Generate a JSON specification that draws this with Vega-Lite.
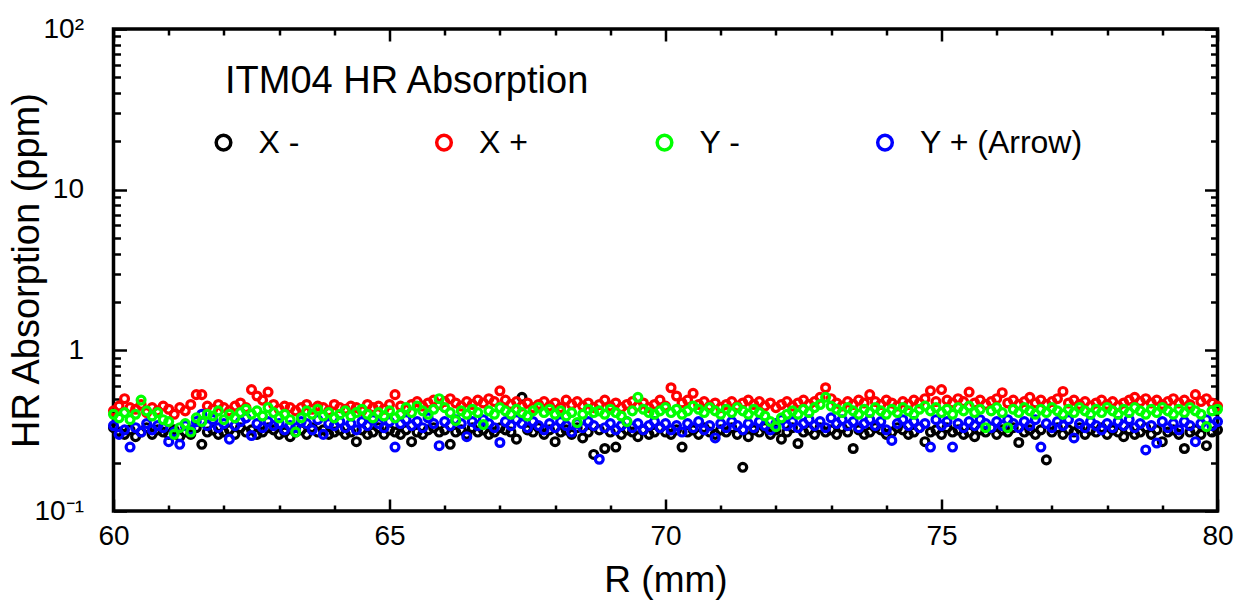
{
"$schema": "https://vega.github.io/schema/vega-lite/v6.json",
"width": 1104, "height": 482,
"autosize": {"type": "none"},
"padding": {"left": 113.5, "top": 29, "right": 29.5, "bottom": 92},
"background": "white",
"data": {"values": [
{"r":60.0,"a":0.33,"b":0.42,"c":0.34,"d":0.40},
{"r":60.1,"a":0.31,"b":0.45,"c":0.30,"d":0.38},
{"r":60.2,"a":0.30,"b":0.50,"c":0.32,"d":0.41},
{"r":60.3,"a":0.32,"b":0.44,"c":0.25,"d":0.37},
{"r":60.4,"a":0.29,"b":0.43,"c":0.33,"d":0.40},
{"r":60.5,"a":0.31,"b":0.46,"c":0.31,"d":0.49},
{"r":60.6,"a":0.33,"b":0.41,"c":0.35,"d":0.42},
{"r":60.7,"a":0.30,"b":0.44,"c":0.32,"d":0.39},
{"r":60.8,"a":0.32,"b":0.42,"c":0.34,"d":0.41},
{"r":60.9,"a":0.31,"b":0.45,"c":0.33,"d":0.37},
{"r":61.0,"a":0.30,"b":0.43,"c":0.27,"d":0.36},
{"r":61.1,"a":0.32,"b":0.40,"c":0.31,"d":0.30},
{"r":61.2,"a":0.29,"b":0.44,"c":0.26,"d":0.33},
{"r":61.3,"a":0.31,"b":0.42,"c":0.34,"d":0.35},
{"r":61.4,"a":0.30,"b":0.46,"c":0.32,"d":0.31},
{"r":61.5,"a":0.33,"b":0.53,"c":0.36,"d":0.38},
{"r":61.6,"a":0.26,"b":0.53,"c":0.40,"d":0.36},
{"r":61.7,"a":0.31,"b":0.45,"c":0.34,"d":0.40},
{"r":61.8,"a":0.32,"b":0.43,"c":0.37,"d":0.39},
{"r":61.9,"a":0.30,"b":0.46,"c":0.33,"d":0.42},
{"r":62.0,"a":0.31,"b":0.44,"c":0.35,"d":0.37},
{"r":62.1,"a":0.32,"b":0.42,"c":0.28,"d":0.40},
{"r":62.2,"a":0.30,"b":0.45,"c":0.34,"d":0.38},
{"r":62.3,"a":0.33,"b":0.47,"c":0.36,"d":0.41},
{"r":62.4,"a":0.31,"b":0.44,"c":0.38,"d":0.43},
{"r":62.5,"a":0.32,"b":0.57,"c":0.295,"d":0.40},
{"r":62.6,"a":0.30,"b":0.52,"c":0.35,"d":0.42},
{"r":62.7,"a":0.31,"b":0.49,"c":0.33,"d":0.39},
{"r":62.8,"a":0.33,"b":0.55,"c":0.36,"d":0.44},
{"r":62.9,"a":0.32,"b":0.46,"c":0.34,"d":0.41},
{"r":63.0,"a":0.30,"b":0.43,"c":0.35,"d":0.38},
{"r":63.1,"a":0.31,"b":0.45,"c":0.32,"d":0.40},
{"r":63.2,"a":0.29,"b":0.44,"c":0.34,"d":0.37},
{"r":63.3,"a":0.31,"b":0.42,"c":0.33,"d":0.31},
{"r":63.4,"a":0.32,"b":0.44,"c":0.36,"d":0.38},
{"r":63.5,"a":0.30,"b":0.46,"c":0.35,"d":0.42},
{"r":63.6,"a":0.33,"b":0.43,"c":0.32,"d":0.40},
{"r":63.7,"a":0.31,"b":0.45,"c":0.37,"d":0.43},
{"r":63.8,"a":0.32,"b":0.44,"c":0.30,"d":0.39},
{"r":63.9,"a":0.30,"b":0.42,"c":0.35,"d":0.41},
{"r":64.0,"a":0.31,"b":0.46,"c":0.34,"d":0.38},
{"r":64.1,"a":0.32,"b":0.44,"c":0.36,"d":0.40},
{"r":64.2,"a":0.30,"b":0.43,"c":0.33,"d":0.42},
{"r":64.3,"a":0.31,"b":0.45,"c":0.35,"d":0.39},
{"r":64.4,"a":0.27,"b":0.44,"c":0.32,"d":0.41},
{"r":64.5,"a":0.32,"b":0.42,"c":0.36,"d":0.43},
{"r":64.6,"a":0.30,"b":0.46,"c":0.34,"d":0.40},
{"r":64.7,"a":0.31,"b":0.44,"c":0.37,"d":0.38},
{"r":64.8,"a":0.33,"b":0.45,"c":0.35,"d":0.41},
{"r":64.9,"a":0.30,"b":0.43,"c":0.33,"d":0.39},
{"r":65.0,"a":0.32,"b":0.46,"c":0.36,"d":0.42},
{"r":65.1,"a":0.31,"b":0.53,"c":0.25,"d":0.38},
{"r":65.2,"a":0.30,"b":0.45,"c":0.35,"d":0.40},
{"r":65.3,"a":0.32,"b":0.43,"c":0.37,"d":0.44},
{"r":65.4,"a":0.27,"b":0.46,"c":0.34,"d":0.41},
{"r":65.5,"a":0.31,"b":0.48,"c":0.36,"d":0.45},
{"r":65.6,"a":0.30,"b":0.45,"c":0.33,"d":0.42},
{"r":65.7,"a":0.32,"b":0.47,"c":0.38,"d":0.40},
{"r":65.8,"a":0.33,"b":0.49,"c":0.35,"d":0.43},
{"r":65.9,"a":0.31,"b":0.46,"c":0.255,"d":0.50},
{"r":66.0,"a":0.32,"b":0.48,"c":0.36,"d":0.44},
{"r":66.1,"a":0.26,"b":0.50,"c":0.34,"d":0.41},
{"r":66.2,"a":0.31,"b":0.47,"c":0.37,"d":0.366},
{"r":66.3,"a":0.32,"b":0.45,"c":0.35,"d":0.42},
{"r":66.4,"a":0.30,"b":0.48,"c":0.29,"d":0.40},
{"r":66.5,"a":0.33,"b":0.46,"c":0.36,"d":0.43},
{"r":66.6,"a":0.31,"b":0.49,"c":0.34,"d":0.41},
{"r":66.7,"a":0.32,"b":0.47,"c":0.37,"d":0.345},
{"r":66.8,"a":0.30,"b":0.50,"c":0.35,"d":0.42},
{"r":66.9,"a":0.31,"b":0.48,"c":0.33,"d":0.40},
{"r":67.0,"a":0.33,"b":0.56,"c":0.267,"d":0.44},
{"r":67.1,"a":0.32,"b":0.49,"c":0.36,"d":0.42},
{"r":67.2,"a":0.31,"b":0.46,"c":0.34,"d":0.40},
{"r":67.3,"a":0.28,"b":0.48,"c":0.37,"d":0.43},
{"r":67.4,"a":0.51,"b":0.45,"c":0.35,"d":0.41},
{"r":67.5,"a":0.32,"b":0.47,"c":0.33,"d":0.39},
{"r":67.6,"a":0.31,"b":0.44,"c":0.36,"d":0.42},
{"r":67.7,"a":0.33,"b":0.46,"c":0.34,"d":0.44},
{"r":67.8,"a":0.30,"b":0.48,"c":0.32,"d":0.41},
{"r":67.9,"a":0.32,"b":0.45,"c":0.35,"d":0.43},
{"r":68.0,"a":0.27,"b":0.47,"c":0.33,"d":0.40},
{"r":68.1,"a":0.31,"b":0.44,"c":0.36,"d":0.42},
{"r":68.2,"a":0.32,"b":0.49,"c":0.34,"d":0.39},
{"r":68.3,"a":0.30,"b":0.46,"c":0.31,"d":0.41},
{"r":68.4,"a":0.33,"b":0.48,"c":0.35,"d":0.355},
{"r":68.5,"a":0.285,"b":0.45,"c":0.33,"d":0.40},
{"r":68.6,"a":0.31,"b":0.47,"c":0.36,"d":0.43},
{"r":68.7,"a":0.225,"b":0.44,"c":0.34,"d":0.41},
{"r":68.8,"a":0.32,"b":0.46,"c":0.21,"d":0.42},
{"r":68.9,"a":0.245,"b":0.49,"c":0.33,"d":0.40},
{"r":69.0,"a":0.31,"b":0.45,"c":0.35,"d":0.43},
{"r":69.1,"a":0.25,"b":0.47,"c":0.32,"d":0.41},
{"r":69.2,"a":0.30,"b":0.44,"c":0.34,"d":0.39},
{"r":69.3,"a":0.32,"b":0.46,"c":0.36,"d":0.36},
{"r":69.4,"a":0.31,"b":0.48,"c":0.33,"d":0.42},
{"r":69.5,"a":0.29,"b":0.45,"c":0.35,"d":0.51},
{"r":69.6,"a":0.32,"b":0.47,"c":0.32,"d":0.43},
{"r":69.7,"a":0.30,"b":0.44,"c":0.34,"d":0.41},
{"r":69.8,"a":0.31,"b":0.46,"c":0.36,"d":0.40},
{"r":69.9,"a":0.33,"b":0.49,"c":0.33,"d":0.42},
{"r":70.0,"a":0.31,"b":0.45,"c":0.35,"d":0.44},
{"r":70.1,"a":0.30,"b":0.585,"c":0.32,"d":0.41},
{"r":70.2,"a":0.32,"b":0.52,"c":0.34,"d":0.43},
{"r":70.3,"a":0.25,"b":0.47,"c":0.31,"d":0.40},
{"r":70.4,"a":0.31,"b":0.49,"c":0.35,"d":0.42},
{"r":70.5,"a":0.32,"b":0.54,"c":0.33,"d":0.45},
{"r":70.6,"a":0.30,"b":0.46,"c":0.36,"d":0.43},
{"r":70.7,"a":0.33,"b":0.48,"c":0.32,"d":0.41},
{"r":70.8,"a":0.31,"b":0.45,"c":0.34,"d":0.44},
{"r":70.9,"a":0.30,"b":0.47,"c":0.285,"d":0.42},
{"r":71.0,"a":0.32,"b":0.44,"c":0.35,"d":0.40},
{"r":71.1,"a":0.31,"b":0.46,"c":0.33,"d":0.43},
{"r":71.2,"a":0.33,"b":0.48,"c":0.36,"d":0.41},
{"r":71.3,"a":0.30,"b":0.45,"c":0.34,"d":0.44},
{"r":71.4,"a":0.187,"b":0.47,"c":0.32,"d":0.42},
{"r":71.5,"a":0.29,"b":0.49,"c":0.35,"d":0.40},
{"r":71.6,"a":0.32,"b":0.46,"c":0.33,"d":0.43},
{"r":71.7,"a":0.31,"b":0.48,"c":0.36,"d":0.41},
{"r":71.8,"a":0.33,"b":0.45,"c":0.34,"d":0.39},
{"r":71.9,"a":0.30,"b":0.47,"c":0.32,"d":0.36},
{"r":72.0,"a":0.32,"b":0.44,"c":0.35,"d":0.335},
{"r":72.1,"a":0.28,"b":0.46,"c":0.37,"d":0.38},
{"r":72.2,"a":0.31,"b":0.48,"c":0.34,"d":0.40},
{"r":72.3,"a":0.33,"b":0.45,"c":0.36,"d":0.42},
{"r":72.4,"a":0.263,"b":0.47,"c":0.33,"d":0.40},
{"r":72.5,"a":0.31,"b":0.49,"c":0.35,"d":0.43},
{"r":72.6,"a":0.32,"b":0.46,"c":0.37,"d":0.41},
{"r":72.7,"a":0.30,"b":0.48,"c":0.34,"d":0.44},
{"r":72.8,"a":0.33,"b":0.51,"c":0.36,"d":0.46},
{"r":72.9,"a":0.31,"b":0.585,"c":0.33,"d":0.51},
{"r":73.0,"a":0.32,"b":0.50,"c":0.38,"d":0.45},
{"r":73.1,"a":0.30,"b":0.47,"c":0.35,"d":0.43},
{"r":73.2,"a":0.33,"b":0.45,"c":0.37,"d":0.41},
{"r":73.3,"a":0.31,"b":0.48,"c":0.34,"d":0.44},
{"r":73.4,"a":0.245,"b":0.46,"c":0.36,"d":0.42},
{"r":73.5,"a":0.32,"b":0.49,"c":0.33,"d":0.40},
{"r":73.6,"a":0.30,"b":0.47,"c":0.35,"d":0.43},
{"r":73.7,"a":0.31,"b":0.53,"c":0.37,"d":0.41},
{"r":73.8,"a":0.33,"b":0.48,"c":0.34,"d":0.44},
{"r":73.9,"a":0.32,"b":0.46,"c":0.36,"d":0.42},
{"r":74.0,"a":0.30,"b":0.49,"c":0.32,"d":0.40},
{"r":74.1,"a":0.31,"b":0.47,"c":0.275,"d":0.43},
{"r":74.2,"a":0.33,"b":0.45,"c":0.35,"d":0.41},
{"r":74.3,"a":0.32,"b":0.48,"c":0.37,"d":0.44},
{"r":74.4,"a":0.30,"b":0.46,"c":0.34,"d":0.42},
{"r":74.5,"a":0.31,"b":0.49,"c":0.36,"d":0.40},
{"r":74.6,"a":0.33,"b":0.47,"c":0.33,"d":0.43},
{"r":74.7,"a":0.27,"b":0.50,"c":0.35,"d":0.45},
{"r":74.8,"a":0.31,"b":0.56,"c":0.25,"d":0.42},
{"r":74.9,"a":0.32,"b":0.48,"c":0.37,"d":0.44},
{"r":75.0,"a":0.30,"b":0.57,"c":0.34,"d":0.41},
{"r":75.1,"a":0.33,"b":0.49,"c":0.36,"d":0.43},
{"r":75.2,"a":0.31,"b":0.47,"c":0.25,"d":0.40},
{"r":75.3,"a":0.32,"b":0.50,"c":0.35,"d":0.44},
{"r":75.4,"a":0.30,"b":0.48,"c":0.33,"d":0.42},
{"r":75.5,"a":0.31,"b":0.55,"c":0.36,"d":0.45},
{"r":75.6,"a":0.29,"b":0.47,"c":0.34,"d":0.41},
{"r":75.7,"a":0.32,"b":0.49,"c":0.37,"d":0.43},
{"r":75.8,"a":0.31,"b":0.46,"c":0.35,"d":0.33},
{"r":75.9,"a":0.33,"b":0.48,"c":0.33,"d":0.42},
{"r":76.0,"a":0.30,"b":0.50,"c":0.36,"d":0.44},
{"r":76.1,"a":0.32,"b":0.545,"c":0.34,"d":0.41},
{"r":76.2,"a":0.31,"b":0.47,"c":0.37,"d":0.33},
{"r":76.3,"a":0.33,"b":0.49,"c":0.35,"d":0.43},
{"r":76.4,"a":0.267,"b":0.46,"c":0.33,"d":0.41},
{"r":76.5,"a":0.31,"b":0.48,"c":0.36,"d":0.44},
{"r":76.6,"a":0.32,"b":0.51,"c":0.34,"d":0.42},
{"r":76.7,"a":0.30,"b":0.47,"c":0.37,"d":0.40},
{"r":76.8,"a":0.32,"b":0.49,"c":0.25,"d":0.43},
{"r":76.9,"a":0.208,"b":0.46,"c":0.35,"d":0.41},
{"r":77.0,"a":0.31,"b":0.48,"c":0.33,"d":0.44},
{"r":77.1,"a":0.33,"b":0.50,"c":0.36,"d":0.42},
{"r":77.2,"a":0.30,"b":0.555,"c":0.34,"d":0.40},
{"r":77.3,"a":0.32,"b":0.47,"c":0.37,"d":0.43},
{"r":77.4,"a":0.31,"b":0.49,"c":0.285,"d":0.41},
{"r":77.5,"a":0.33,"b":0.46,"c":0.35,"d":0.44},
{"r":77.6,"a":0.30,"b":0.48,"c":0.33,"d":0.42},
{"r":77.7,"a":0.32,"b":0.45,"c":0.36,"d":0.40},
{"r":77.8,"a":0.31,"b":0.47,"c":0.34,"d":0.43},
{"r":77.9,"a":0.33,"b":0.49,"c":0.32,"d":0.41},
{"r":78.0,"a":0.30,"b":0.46,"c":0.35,"d":0.44},
{"r":78.1,"a":0.32,"b":0.48,"c":0.33,"d":0.42},
{"r":78.2,"a":0.31,"b":0.45,"c":0.36,"d":0.40},
{"r":78.3,"a":0.29,"b":0.47,"c":0.34,"d":0.43},
{"r":78.4,"a":0.32,"b":0.49,"c":0.37,"d":0.41},
{"r":78.5,"a":0.30,"b":0.51,"c":0.33,"d":0.44},
{"r":78.6,"a":0.31,"b":0.48,"c":0.35,"d":0.42},
{"r":78.7,"a":0.33,"b":0.50,"c":0.24,"d":0.40},
{"r":78.8,"a":0.30,"b":0.47,"c":0.34,"d":0.43},
{"r":78.9,"a":0.32,"b":0.49,"c":0.265,"d":0.41},
{"r":79.0,"a":0.27,"b":0.46,"c":0.36,"d":0.44},
{"r":79.1,"a":0.31,"b":0.48,"c":0.33,"d":0.42},
{"r":79.2,"a":0.32,"b":0.50,"c":0.35,"d":0.40},
{"r":79.3,"a":0.30,"b":0.47,"c":0.32,"d":0.43},
{"r":79.4,"a":0.245,"b":0.49,"c":0.36,"d":0.41},
{"r":79.5,"a":0.31,"b":0.46,"c":0.34,"d":0.44},
{"r":79.6,"a":0.32,"b":0.53,"c":0.27,"d":0.42},
{"r":79.7,"a":0.30,"b":0.48,"c":0.35,"d":0.40},
{"r":79.8,"a":0.255,"b":0.50,"c":0.37,"d":0.335},
{"r":79.9,"a":0.31,"b":0.47,"c":0.34,"d":0.42},
{"r":80.0,"a":0.32,"b":0.45,"c":0.36,"d":0.43}
]},
"transform": [{"fold": ["a", "b", "c", "d"], "as": ["k", "v"]}],
"layer": [
{
"mark": {"type": "point", "shape": "circle", "filled": false, "size": 62, "strokeWidth": 3.2, "opacity": 1},
"encoding": {
"x": {"field": "r", "type": "quantitative", "scale": {"domain": [60, 80], "nice": false, "zero": false},
"axis": {"orient": "bottom", "values": [60, 65, 70, 75, 80], "tickSize": -12, "labelFontSize": 28, "labelPadding": 45.5, "labelBaseline": "alphabetic", "labelFlush": false, "labelOverlap": false,
"title": "R (mm)", "titleFontSize": 37, "titleFontWeight": "normal", "titleX": 552, "titleY": 80.5, "titleAlign": "center", "titleBaseline": "alphabetic"}},
"y": {"field": "v", "type": "quantitative", "scale": {"type": "log", "domain": [0.1, 100], "nice": false},
"axis": {"orient": "left", "values": [0.1, 1, 10, 100], "ticks": false, "labelFontSize": 28, "labelPadding": 30, "labelAlign": "right", "labelFlush": false, "labelOverlap": false,
"labelExpr": "datum.value >= 99 ? '10²' : datum.value < 0.5 ? '10⁻¹' : datum.value >= 9 ? '10' : '1'",
"title": "HR Absorption (ppm)", "titleFontSize": 38, "titleFontWeight": "normal", "titleX": -75.5, "titleY": 241, "titleAlign": "center", "titleBaseline": "alphabetic"}},
"color": {"field": "k", "type": "nominal", "scale": {"domain": ["a", "b", "d", "c"], "range": ["#000000", "#ff0000", "#00ff00", "#0000ff"]},
"legend": {"orient": "none", "legendX": 111.5, "legendY": 34, "direction": "horizontal", "columns": 4, "gridAlign": "all", "padding": 0,
"title": "ITM04 HR Absorption", "titleFontSize": 38, "titleFontWeight": "normal", "titleColor": "black", "titlePadding": 25.6, "titleLimit": 800,
"labelFontSize": 32, "labelColor": "black", "labelLimit": 400, "symbolSize": 214, "symbolStrokeWidth": 3.5, "symbolType": "circle",
"symbolOffset": -17.5, "labelOffset": 19, "columnPadding": 7.5,
"labelExpr": "datum.value == 'a' ? 'X -' : datum.value == 'b' ? 'X +' : datum.value == 'd' ? 'Y -' : 'Y + (Arrow)'"}},
"order": {"field": "k", "sort": "ascending"}
}
},
{
"mark": {"type": "point", "opacity": 0},
"encoding": {
"x": {"field": "r", "type": "quantitative", "scale": {"domain": [60, 80], "nice": false, "zero": false},
"axis": {"orient": "bottom", "values": [61, 62, 63, 64, 66, 67, 68, 69, 71, 72, 73, 74, 76, 77, 78, 79], "tickSize": -6, "labels": false, "title": null}},
"y": {"field": "v", "type": "quantitative", "scale": {"type": "log", "domain": [0.1, 100], "nice": false},
"axis": {"orient": "left", "values": [0.2, 0.3, 0.4, 0.5, 0.6, 0.7, 0.8, 0.9, 2, 3, 4, 5, 6, 7, 8, 9, 20, 30, 40, 50, 60, 70, 80, 90], "tickSize": -7, "labels": false, "title": null}}
}
},
{
"mark": {"type": "point", "opacity": 0},
"encoding": {
"x": {"field": "r", "type": "quantitative", "scale": {"domain": [60, 80], "nice": false, "zero": false},
"axis": {"orient": "top", "values": [60, 65, 70, 75, 80], "tickSize": -12, "labels": false, "title": null}},
"y": {"field": "v", "type": "quantitative", "scale": {"type": "log", "domain": [0.1, 100], "nice": false},
"axis": {"orient": "right", "values": [0.1, 1, 10, 100], "tickSize": -13, "labels": false, "title": null}}
}
},
{
"mark": {"type": "point", "opacity": 0},
"encoding": {
"x": {"field": "r", "type": "quantitative", "scale": {"domain": [60, 80], "nice": false, "zero": false},
"axis": {"orient": "top", "values": [61, 62, 63, 64, 66, 67, 68, 69, 71, 72, 73, 74, 76, 77, 78, 79], "tickSize": -6, "labels": false, "title": null}},
"y": {"field": "v", "type": "quantitative", "scale": {"type": "log", "domain": [0.1, 100], "nice": false},
"axis": {"orient": "right", "values": [0.2, 0.3, 0.4, 0.5, 0.6, 0.7, 0.8, 0.9, 2, 3, 4, 5, 6, 7, 8, 9, 20, 30, 40, 50, 60, 70, 80, 90], "tickSize": -7, "labels": false, "title": null}}
}
},
{
"mark": {"type": "point", "opacity": 0},
"encoding": {
"y": {"field": "v", "type": "quantitative", "scale": {"type": "log", "domain": [0.1, 100], "nice": false},
"axis": {"orient": "left", "values": [0.1, 1, 10, 100], "tickSize": -13, "labels": false, "title": null}}
}
}
],
"resolve": {"axis": {"x": "independent", "y": "independent"}},
"config": {
"font": "Liberation Sans",
"view": {"stroke": "black", "strokeWidth": 3.5},
"axis": {"domain": false, "grid": false, "tickColor": "black", "tickWidth": 2.5, "labelColor": "black", "titleColor": "black", "labelFont": "Liberation Sans", "titleFont": "Liberation Sans"},
"legend": {"labelFont": "Liberation Sans", "titleFont": "Liberation Sans"}
}
}
